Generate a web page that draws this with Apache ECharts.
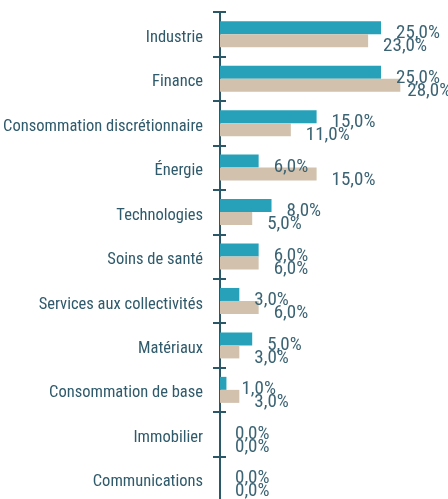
<!DOCTYPE html>
<html>
<head>
<meta charset="utf-8">
<script src="https://cdn.jsdelivr.net/npm/echarts@6/dist/echarts.min.js"></script>
<style>
  html, body { margin: 0; padding: 0; background: #ffffff; }
  #chart { width: 448px; height: 499px; }
</style>
</head>
<body>
<div id="chart"></div>
<script>
// Répartition sectorielle (%)
const categories = [
  'Industrie', 'Finance', 'Consommation discrétionnaire', 'Énergie',
  'Technologies', 'Soins de santé', 'Services aux collectivités',
  'Matériaux', 'Consommation de base', 'Immobilier', 'Communications'
];
const portefeuille = [25, 25, 15, 6, 8, 6, 3, 5, 1, 0, 0];
const indice = [23, 28, 11, 15, 5, 6, 6, 3, 3, 0, 0];

const textColor = '#2f5a6b';
const axisColor = '#2b5868';
const fontFamily = '"Roboto Condensed", "DejaVu Sans Condensed", sans-serif';
const xMax = 35;

const fmt = p => p.value.toFixed(1).replace('.', ',') + '%';

const valueLabel = {
  show: true,
  position: 'right',
  distance: 15,
  offset: [0, 6],
  color: '#3b6373',
  fontFamily: fontFamily,
  fontSize: 19,
  formatter: fmt
};

// Long bars get their label pulled closer so it stays inside the chart
const withLabelFit = values => values.map(v =>
  v > 26 ? { value: v, label: { distance: 7 } } : v
);

const chart = echarts.init(document.getElementById('chart'), null, { renderer: 'canvas' });
chart.setOption({
  animation: false,
  grid: {
    left: 220, top: 12, width: 225.4, height: 489,
    containLabel: false, outerBoundsMode: 'none'
  },
  xAxis: { type: 'value', min: 0, max: xMax, show: false },
  yAxis: [
    {
      type: 'category',
      data: categories,
      inverse: true,
      axisLine: { show: true, lineStyle: { color: axisColor, width: 2 } },
      axisTick: { show: true, length: 7, lineStyle: { color: axisColor, width: 2 } },
      axisLabel: {
        color: textColor, fontFamily: fontFamily, fontSize: 16.5,
        margin: 17, verticalAlign: 'top', lineHeight: 7
      }
    },
    {
      type: 'category',
      data: categories,
      inverse: true,
      position: 'left',
      axisLine: { show: false },
      axisTick: { show: true, inside: true, length: 6, lineStyle: { color: axisColor, width: 2 } },
      axisLabel: { show: false }
    }
  ],
  series: [
    {
      name: 'Portefeuille',
      type: 'bar',
      data: withLabelFit(portefeuille),
      barWidth: 13,
      barGap: '0%',
      itemStyle: { color: '#27a1b9' },
      label: valueLabel,
      z: 2
    },
    {
      name: 'Indice',
      type: 'bar',
      data: withLabelFit(indice),
      barWidth: 13,
      itemStyle: { color: '#d1c1ad' },
      label: valueLabel,
      z: 2
    }
  ]
});
</script>
</body>
</html>
